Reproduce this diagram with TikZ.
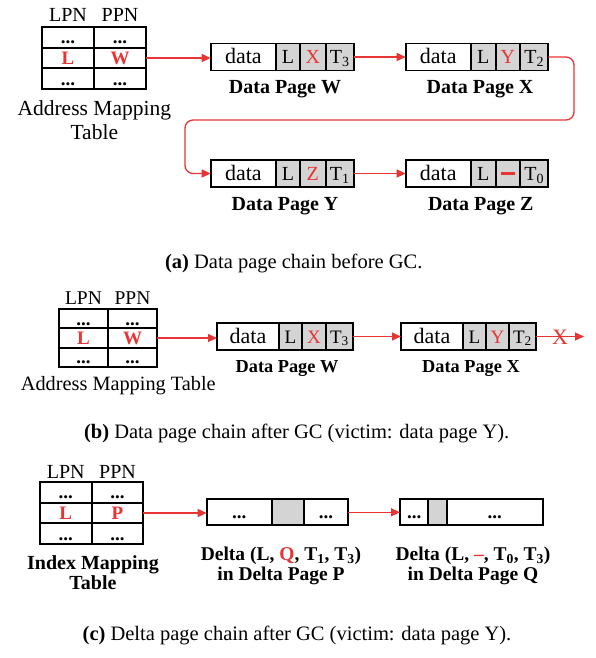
\documentclass[tikz,border=0pt]{standalone}
\usepackage{fontspec}
\setmainfont{Liberation Serif}
\usetikzlibrary{arrows.meta}
\definecolor{myred}{RGB}{232,52,52}
\definecolor{cgray}{RGB}{212,212,212}
\newcommand\mktable[7]{%
  \node[tcell, minimum width=#4pt, minimum height=#5pt] (#1a) at (#2,#3) {...};
  \node[tcell, minimum width=#4pt, minimum height=#5pt] (#1b) at (#1a.north east) {...};
  \node[tcell, minimum width=#4pt, minimum height=#5pt] (#1c) at (#1a.south west) {\textcolor{myred}{#6}};
  \node[tcell, minimum width=#4pt, minimum height=#5pt] (#1d) at (#1c.north east) {\textcolor{myred}{#7}};
  \node[tcell, minimum width=#4pt, minimum height=#5pt] (#1e) at (#1c.south west) {...};
  \node[tcell, minimum width=#4pt, minimum height=#5pt] (#1f) at (#1e.north east) {...};
}
\newcommand\mkpage[9]{%
  \node[pcell, minimum width=#4pt] (#1a) at (#2,#3) {\datafont data};
  \node[gcell, minimum width=#5pt] (#1b) at (#1a.east) {L};
  \node[gcell, minimum width=#6pt] (#1c) at (#1b.east) {#8};
  \node[gcell, minimum width=#7pt] (#1d) at (#1c.east) {T\textsubscript{#9}};
}
\newcommand\datafont{\fontsize{22}{24}\selectfont}
\begin{document}
\begin{tikzpicture}[x=1pt,y=-1pt,
  pcell/.style={draw=black, line width=1.8pt, minimum height=27pt, inner sep=0pt, outer sep=0pt,
    anchor=west, text height=13pt, text depth=0pt, font=\fontsize{20}{24}\selectfont},
  gcell/.style={pcell, fill=cgray},
  tcell/.style={draw=black, line width=1.8pt, inner sep=0pt, outer sep=0pt, anchor=north west,
    text height=13pt, text depth=0pt, font=\bfseries\fontsize{19}{22}\selectfont},
  lbl/.style={anchor=base, inner sep=0pt, font=\fontsize{20}{24}\selectfont},
  blbl/.style={anchor=base, inner sep=0pt, font=\bfseries\fontsize{20}{24}\selectfont},
  captxt/.style={anchor=base, inner sep=0pt, font=\fontsize{20.5}{24}\selectfont},
  rarrow/.style={draw=myred, line width=1.3pt, -{Triangle[length=9pt,width=8pt]}},
]
\useasboundingbox (0,0) rectangle (595,658);

% ---------------- (a) ----------------
\mktable{ta}{42}{27}{52}{20.67}{L}{W}
\node[lbl] (taLPN) at (68,22) {LPN};
\node[lbl] (taPPN) at (120,22) {PPN};
\node[lbl, font=\fontsize{21.5}{24}\selectfont] (taLbl1) at (94.3,116) {Address Mapping};
\node[lbl, font=\fontsize{21.5}{24}\selectfont] (taLbl2) at (94.3,139.3) {Table};

\mkpage{pW}{210.7}{57}{65.3}{24}{25.7}{28.3}{\textcolor{myred}{X}}{3}
\mkpage{pX}{405.7}{57}{65}{25}{24.3}{28.3}{\textcolor{myred}{Y}}{2}
\mkpage{pY}{210.7}{173.5}{65.3}{24}{25.7}{28.3}{\textcolor{myred}{Z}}{1}
\mkpage{pZ}{405.7}{173.5}{65}{25}{24.3}{28.3}{\textcolor{myred}{\rule[5.4pt]{14pt}{2.3pt}}}{0}

\node[blbl] (lW) at (285,93.3) {Data Page W};
\node[blbl] (lX) at (480,93.3) {Data Page X};
\node[blbl] (lY) at (285,210) {Data Page Y};
\node[blbl] (lZ) at (480.8,210) {Data Page Z};

\coordinate (bendR) at (574,120);
\coordinate (bendL) at (185,120);
\draw[rarrow] (tad.east) -- (tad.east -| pWa.west);
\draw[rarrow] (pWd.east) -- (pXa.west);
\draw[rarrow, rounded corners=8pt] (pXd.east) -| (bendR) -- (bendL) |- (pYa.west);
\draw[rarrow] (pYd.east) -- (pZa.west);

\node[captxt] (capA) at (293.8,268.3) {\textbf{(a)} Data page chain before GC.};

% ---------------- (b) ----------------
\mktable{tb}{59}{309}{49}{19.33}{L}{W}
\node[lbl, font=\fontsize{19.5}{24}\selectfont] (tbLPN) at (83.5,304) {LPN};
\node[lbl, font=\fontsize{19.5}{24}\selectfont] (tbPPN) at (132.5,304) {PPN};
\node[lbl, font=\fontsize{20.3}{24}\selectfont] (tbLbl) at (118.3,390) {Address Mapping Table};

\begin{scope}[pcell/.append style={font=\fontsize{19}{24}\selectfont}]
\mkpage{qW}{217}{336.5}{62}{23}{24}{27}{\textcolor{myred}{X}}{3}
\mkpage{qX}{401}{336.5}{62}{23}{23}{27}{\textcolor{myred}{Y}}{2}
\end{scope}
\node[blbl, font=\bfseries\fontsize{18.3}{22}\selectfont] (mW) at (287,372) {Data Page W};
\node[blbl, font=\bfseries\fontsize{18.3}{22}\selectfont] (mX) at (471,372) {Data Page X};

\coordinate (xend) at (584,336.5);
\draw[rarrow] (tbd.east) -- (tbd.east -| qWa.west);
\draw[rarrow] (qWd.east) -- (qXa.west);
\draw[rarrow] (qXd.east) -- (xend);
\node[inner sep=0pt, text=myred, font=\fontsize{22}{24}\selectfont] (xmark) at (560,337.5) {X};

\node[captxt] (capB) at (296.7,438.3) {\textbf{(b)} Data page chain after GC (victim: data page Y).};

% ---------------- (c) ----------------
\mktable{tc}{40}{482}{51.65}{20.67}{L}{P}
\node[lbl] (tcLPN) at (65.8,478.3) {LPN};
\node[lbl] (tcPPN) at (117.5,478.3) {PPN};
\node[blbl] (tcLbl1) at (93,569.3) {Index Mapping};
\node[blbl] (tcLbl2) at (93,589.3) {Table};

\begin{scope}[pcell/.append style={minimum height=26pt, font=\bfseries\fontsize{19}{24}\selectfont}]
\node[pcell, minimum width=65pt] (dPa) at (206.7,512.3) {...};
\node[gcell, minimum width=32pt] (dPb) at (dPa.east) {};
\node[pcell, minimum width=44.6pt] (dPc) at (dPb.east) {...};
\node[pcell, minimum width=28.3pt] (dQa) at (400,512.3) {...};
\node[gcell, minimum width=18.7pt] (dQb) at (dQa.east) {};
\node[pcell, minimum width=95.7pt] (dQc) at (dQb.east) {...};
\end{scope}

\draw[rarrow] (tcd.east) -- (tcd.east -| dPa.west);
\draw[rarrow] (dPc.east) -- (dQa.west);

\node[blbl, font=\bfseries\fontsize{19.5}{22}\selectfont] (dl1) at (281,560)
  {Delta (L, \textcolor{myred}{Q}, T\textsubscript{1}, T\textsubscript{3})};
\node[blbl, font=\bfseries\fontsize{19.5}{22}\selectfont] (dl2) at (281,580) {in Delta Page P};
\node[blbl, font=\bfseries\fontsize{19.5}{22}\selectfont] (dl3) at (473,560)
  {Delta (L, \textcolor{myred}{–}, T\textsubscript{0}, T\textsubscript{3})};
\node[blbl, font=\bfseries\fontsize{19.5}{22}\selectfont] (dl4) at (473,580) {in Delta Page Q};

\node[captxt] (capC) at (297,640) {\textbf{(c)} Delta page chain after GC (victim: data page Y).};
\end{tikzpicture}
\end{document}
